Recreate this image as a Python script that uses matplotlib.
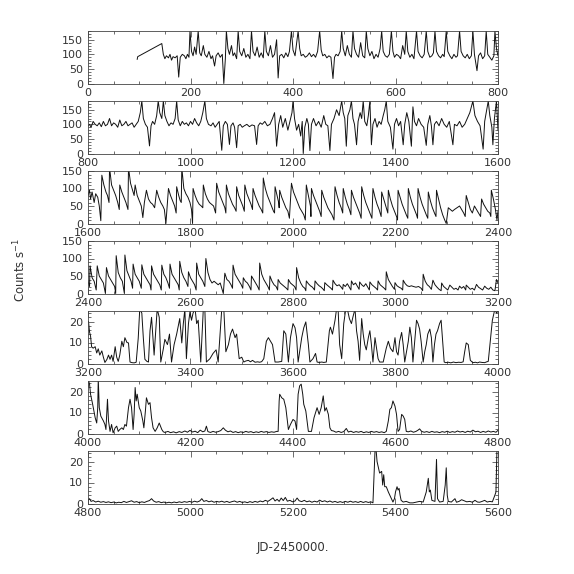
import numpy as np
import matplotlib
matplotlib.use("Agg")
import matplotlib.pyplot as plt
from matplotlib.ticker import MultipleLocator

# light curve: (JD-2450000, counts/s) per panel
seg1 = [(96, 83), (97, 92), (144, 137), (147, 100), (150, 85), (153, 95), (157, 88), (160, 100),
        (163, 80), (166, 92), (170, 88), (174, 95), (177, 22), (180, 90), (184, 100), (188, 95),
        (191, 85), (194, 100), (197, 90), (199, 180), (202, 110), (205, 95), (208, 125), (211, 100),
        (215, 180), (218, 105), (221, 95), (225, 130), (228, 100), (232, 90), (236, 110), (240, 85),
        (243, 95), (247, 60), (250, 95), (254, 105), (258, 90), (262, 100), (265, 0), (268, 85),
        (270, 180), (273, 120), (276, 100), (280, 130), (283, 95), (286, 105), (290, 85), (293, 180),
        (296, 110), (300, 95), (304, 120), (308, 90), (312, 100), (316, 85), (319, 180), (322, 110),
        (326, 95), (330, 125), (334, 90), (338, 105), (342, 88), (345, 180), (348, 110), (352, 95),
        (356, 130), (360, 90), (364, 100), (368, 150), (371, 19), (374, 95), (378, 100), (382, 88),
        (386, 105), (390, 92), (393, 110), (397, 180), (400, 115), (404, 95), (410, 180), (413, 120),
        (416, 95), (420, 100), (424, 90), (428, 95), (432, 105), (436, 92), (440, 100), (444, 90),
        (448, 110), (452, 180), (455, 115), (458, 95), (462, 100), (466, 88), (470, 95), (474, 90),
        (478, 17), (481, 90), (484, 100), (488, 95), (492, 110), (495, 180), (498, 120), (502, 95),
        (506, 130), (510, 100), (514, 90), (517, 180), (520, 120), (524, 100), (528, 90), (532, 140),
        (536, 95), (540, 88), (543, 180), (546, 120), (550, 95), (554, 110), (558, 85), (562, 100),
        (566, 90), (570, 120), (573, 180), (576, 110), (580, 95), (584, 90), (588, 100), (592, 180),
        (595, 110), (598, 90), (602, 100), (606, 95), (610, 85), (614, 130), (618, 100), (621, 180),
        (624, 110), (628, 90), (632, 100), (636, 85), (641, 180), (644, 110), (648, 95), (652, 88),
        (656, 100), (660, 180), (663, 110), (667, 90), (671, 95), (674, 105), (677, 180), (680, 110),
        (684, 95), (688, 88), (692, 100), (695, 92), (699, 180), (702, 110), (706, 95), (710, 85),
        (714, 100), (718, 90), (721, 95), (725, 180), (728, 110), (732, 95), (736, 88), (740, 100),
        (744, 85), (748, 95), (751, 180), (754, 100), (759, 44), (762, 95), (766, 105), (770, 85),
        (774, 95), (777, 180), (780, 100), (784, 90), (788, 80), (792, 95), (794, 180), (797, 120),
        (800, 95)]

seg2 = [(800, 95), (803, 100), (806, 90), (810, 110), (814, 100), (818, 95), (822, 105), (826, 92),
        (830, 110), (834, 95), (838, 100), (842, 120), (846, 95), (850, 105), (854, 100), (858, 90),
        (862, 115), (866, 95), (870, 100), (874, 110), (878, 95), (882, 100), (886, 105), (890, 90),
        (894, 100), (898, 110), (902, 140), (905, 180), (908, 120), (912, 100), (916, 90), (920, 26),
        (923, 95), (926, 110), (930, 100), (934, 130), (937, 180), (940, 140), (944, 120), (947, 180),
        (950, 130), (954, 110), (958, 95), (962, 105), (966, 100), (970, 120), (973, 180), (976, 115),
        (980, 95), (984, 110), (988, 100), (992, 105), (996, 95), (1000, 110), (1004, 100), (1008, 120),
        (1012, 105), (1016, 95), (1020, 110), (1024, 140), (1028, 180), (1031, 120), (1035, 100),
        (1040, 95), (1044, 105), (1048, 90), (1052, 100), (1056, 110), (1061, 11), (1064, 95),
        (1068, 110), (1072, 100), (1076, 31), (1079, 95), (1083, 105), (1086, 90), (1090, 20),
        (1093, 95), (1097, 100), (1101, 90), (1105, 95), (1110, 100), (1115, 92), (1120, 98),
        (1125, 95), (1129, 31), (1132, 95), (1136, 105), (1140, 100), (1145, 110), (1150, 95),
        (1155, 100), (1160, 120), (1164, 140), (1168, 25), (1172, 100), (1176, 130), (1180, 90),
        (1185, 120), (1190, 80), (1194, 110), (1198, 140), (1200, 180), (1203, 120), (1207, 80),
        (1211, 100), (1215, 60), (1218, 110), (1220, 0), (1223, 90), (1227, 120), (1230, 100),
        (1233, 10), (1236, 100), (1240, 120), (1245, 95), (1250, 110), (1255, 90), (1260, 130),
        (1264, 100), (1268, 95), (1272, 10), (1275, 100), (1280, 120), (1285, 150), (1290, 130),
        (1295, 180), (1298, 140), (1301, 120), (1304, 25), (1307, 130), (1311, 150), (1314, 180),
        (1317, 120), (1320, 100), (1324, 30), (1327, 110), (1331, 140), (1334, 120), (1337, 180),
        (1340, 110), (1344, 95), (1347, 130), (1350, 180), (1353, 30), (1356, 100), (1360, 120),
        (1364, 90), (1368, 110), (1372, 100), (1376, 130), (1379, 150), (1382, 180), (1385, 110),
        (1390, 90), (1395, 15), (1398, 100), (1402, 120), (1406, 95), (1410, 110), (1415, 30),
        (1418, 100), (1422, 140), (1426, 110), (1431, 25), (1434, 160), (1437, 110), (1441, 95),
        (1445, 120), (1450, 100), (1455, 90), (1460, 28), (1463, 100), (1467, 130), (1470, 95),
        (1473, 30), (1476, 100), (1480, 110), (1485, 95), (1490, 120), (1495, 100), (1500, 90),
        (1505, 110), (1512, 30), (1515, 100), (1520, 95), (1525, 110), (1530, 90), (1535, 100),
        (1540, 120), (1545, 140), (1551, 180), (1555, 130), (1560, 110), (1565, 95), (1571, 15),
        (1574, 110), (1578, 150), (1581, 180), (1584, 130), (1588, 90), (1590, 30), (1593, 120),
        (1597, 180), (1600, 80)]

seg3 = [(1600, 80), (1603, 95), (1605, 70), (1608, 90), (1612, 60), (1615, 85), (1619, 75), (1622, 50),
        (1625, 8), (1627, 138), (1631, 110), (1635, 90), (1638, 80), (1641, 60), (1642, 160), (1646, 110),
        (1650, 95), (1654, 80), (1658, 60), (1661, 40), (1662, 110), (1666, 90), (1670, 75), (1674, 60),
        (1678, 40), (1679, 160), (1683, 115), (1687, 95), (1690, 80), (1692, 110), (1696, 80), (1700, 65),
        (1704, 50), (1707, 17), (1710, 60), (1714, 95), (1718, 70), (1722, 60), (1726, 55), (1730, 45),
        (1734, 95), (1738, 75), (1742, 60), (1746, 50), (1749, 40), (1752, 0), (1757, 100), (1761, 80),
        (1765, 65), (1769, 50), (1772, 30), (1773, 105), (1777, 80), (1780, 65), (1782, 60), (1783, 160),
        (1787, 100), (1791, 85), (1795, 75), (1799, 60), (1802, 40), (1804, 0), (1805, 100), (1809, 80),
        (1813, 65), (1817, 55), (1821, 50), (1824, 45), (1825, 110), (1829, 85), (1833, 70), (1837, 60),
        (1841, 55), (1845, 50), (1849, 30), (1851, 115), (1855, 90), (1859, 75), (1863, 60), (1867, 45),
        (1869, 30), (1870, 110), (1874, 85), (1878, 70), (1882, 55), (1886, 45), (1889, 35), (1890, 105),
        (1894, 80), (1898, 65), (1902, 50), (1905, 35), (1906, 110), (1910, 85), (1914, 70), (1918, 55),
        (1921, 40), (1922, 100), (1926, 80), (1930, 65), (1934, 50), (1938, 40), (1941, 30), (1942, 130),
        (1946, 100), (1950, 80), (1954, 65), (1958, 50), (1962, 35), (1964, 30), (1965, 105), (1969, 80),
        (1972, 60), (1973, 45), (1974, 95), (1978, 75), (1982, 60), (1986, 45), (1990, 35), (1993, 15),
        (1997, 115), (2001, 90), (2005, 75), (2009, 60), (2013, 45), (2017, 35), (2021, 25), (2024, 10),
        (2026, 110), (2030, 80), (2034, 50), (2035, 20), (2036, 100), (2040, 80), (2044, 65), (2048, 50),
        (2052, 35), (2055, 20), (2056, 95), (2060, 75), (2064, 60), (2068, 45), (2072, 35), (2076, 25),
        (2080, 10), (2082, 105), (2086, 80), (2090, 60), (2094, 45), (2097, 30), (2098, 100), (2102, 75),
        (2106, 55), (2110, 40), (2113, 25), (2114, 95), (2118, 75), (2122, 60), (2126, 45), (2130, 30),
        (2133, 15), (2134, 105), (2138, 80), (2142, 60), (2146, 45), (2150, 30), (2154, 15), (2156, 100),
        (2160, 75), (2164, 55), (2168, 40), (2172, 20), (2173, 90), (2177, 70), (2181, 50), (2185, 30),
        (2186, 95), (2190, 70), (2194, 50), (2198, 35), (2202, 20), (2204, 10), (2205, 95), (2209, 75),
        (2213, 55), (2217, 40), (2221, 25), (2224, 15), (2225, 100), (2229, 75), (2233, 55), (2237, 40),
        (2241, 25), (2243, 15), (2244, 100), (2248, 75), (2252, 55), (2256, 40), (2260, 25), (2263, 15),
        (2264, 90), (2268, 65), (2272, 45), (2276, 30), (2279, 20), (2280, 95), (2284, 70), (2288, 45),
        (2292, 25), (2296, 10), (2299, 0), (2303, 45), (2307, 40), (2311, 35), (2315, 40), (2320, 45),
        (2325, 50), (2329, 40), (2333, 30), (2336, 20), (2338, 80), (2342, 60), (2346, 40), (2350, 30),
        (2354, 50), (2358, 40), (2362, 30), (2366, 20), (2368, 70), (2372, 55), (2376, 45), (2380, 35),
        (2384, 30), (2386, 20), (2387, 95), (2391, 70), (2395, 40), (2398, 10), (2400, 35)]

seg4 = [(2400, 35), (2403, 20), (2404, 79), (2408, 45), (2412, 35), (2416, 10), (2418, 79), (2422, 50),
        (2426, 40), (2430, 30), (2434, 0), (2436, 74), (2440, 50), (2444, 40), (2448, 30), (2452, 20),
        (2454, 0), (2455, 108), (2459, 60), (2463, 45), (2467, 35), (2471, 0), (2472, 110), (2476, 65),
        (2480, 50), (2484, 35), (2487, 15), (2488, 84), (2492, 55), (2496, 45), (2500, 35), (2504, 15),
        (2505, 82), (2509, 55), (2513, 45), (2517, 35), (2521, 25), (2523, 10), (2524, 79), (2528, 55),
        (2532, 45), (2536, 35), (2540, 25), (2543, 10), (2544, 81), (2548, 55), (2552, 45), (2556, 30),
        (2559, 15), (2560, 84), (2564, 55), (2568, 45), (2572, 35), (2576, 25), (2578, 10), (2579, 92),
        (2583, 60), (2587, 45), (2591, 35), (2595, 20), (2596, 62), (2600, 45), (2604, 35), (2608, 25),
        (2611, 10), (2612, 87), (2616, 55), (2620, 45), (2624, 35), (2628, 20), (2630, 100), (2634, 60),
        (2638, 40), (2642, 30), (2646, 35), (2650, 30), (2654, 25), (2658, 30), (2662, 10), (2664, 0),
        (2667, 58), (2671, 40), (2675, 35), (2679, 25), (2682, 15), (2683, 81), (2687, 55), (2691, 45),
        (2695, 35), (2699, 25), (2702, 15), (2703, 45), (2707, 35), (2711, 30), (2715, 20), (2718, 10),
        (2719, 50), (2723, 40), (2727, 30), (2731, 20), (2734, 10), (2735, 87), (2739, 55), (2743, 40),
        (2747, 30), (2751, 20), (2754, 10), (2755, 50), (2759, 35), (2763, 25), (2767, 20), (2770, 10),
        (2771, 40), (2775, 30), (2779, 25), (2783, 20), (2787, 15), (2790, 10), (2791, 40), (2795, 30),
        (2799, 25), (2803, 20), (2806, 10), (2807, 74), (2811, 45), (2815, 30), (2819, 20), (2823, 15),
        (2825, 8), (2826, 36), (2830, 28), (2834, 22), (2838, 18), (2842, 10), (2843, 36), (2847, 28),
        (2851, 22), (2855, 18), (2859, 12), (2861, 8), (2862, 31), (2866, 25), (2870, 20), (2874, 15),
        (2877, 10), (2878, 38), (2882, 28), (2886, 22), (2890, 25), (2894, 18), (2897, 12), (2898, 26),
        (2902, 20), (2906, 28), (2910, 18), (2913, 10), (2914, 36), (2918, 25), (2922, 30), (2926, 20),
        (2929, 12), (2930, 33), (2934, 25), (2938, 20), (2942, 28), (2946, 18), (2949, 10), (2950, 33),
        (2954, 25), (2958, 20), (2962, 15), (2965, 10), (2966, 36), (2970, 25), (2974, 20), (2978, 15),
        (2981, 10), (2982, 62), (2986, 40), (2990, 30), (2994, 20), (2998, 12), (2999, 31), (3003, 22),
        (3007, 18), (3011, 15), (3014, 10), (3015, 38), (3019, 28), (3023, 22), (3027, 20), (3031, 22),
        (3035, 20), (3040, 18), (3045, 20), (3050, 15), (3053, 8), (3054, 55), (3058, 35), (3062, 25),
        (3066, 20), (3070, 12), (3073, 38), (3077, 25), (3081, 18), (3085, 12), (3089, 8), (3090, 30),
        (3094, 20), (3098, 15), (3102, 10), (3106, 24), (3110, 18), (3114, 12), (3118, 15), (3122, 10),
        (3125, 21), (3129, 15), (3133, 20), (3137, 10), (3138, 24), (3142, 18), (3146, 12), (3150, 15),
        (3154, 10), (3158, 26), (3162, 18), (3166, 14), (3170, 10), (3174, 21), (3178, 15), (3182, 12),
        (3186, 18), (3190, 10), (3194, 8), (3197, 40), (3200, 30)]

seg5 = [(3200, 20), (3201, 20), (3203, 15), (3205, 13), (3207, 8), (3210, 7.3), (3214, 8), (3217, 5),
        (3220, 7), (3223, 4), (3227, 6), (3230, 3), (3233, 0.5), (3237, 2), (3240, 4), (3243, 2),
        (3246, 4), (3249, 1), (3253, 8), (3256, 3), (3259, 1), (3262, 4), (3266, 10.6), (3269, 8),
        (3272, 12.3), (3276, 10), (3279, 9.8), (3282, 0.7), (3286, 0.4), (3290, 0.3), (3294, 0.6),
        (3298, 12), (3301, 26), (3305, 24), (3308, 12), (3311, 2), (3315, 1), (3318, 0.7), (3321, 15.6),
        (3324, 22), (3329, 4), (3333, 19), (3335, 26), (3339, 22), (3342, 0.7), (3347, 7), (3350, 11.5),
        (3355, 9), (3359, 14), (3363, 0.7), (3368, 9), (3373, 14), (3379, 21.4), (3383, 9.8), (3386, 19),
        (3389, 26), (3392, 2.3), (3396, 19), (3399, 24.7), (3402, 20.6), (3405, 24), (3409, 26),
        (3412, 19), (3415, 20.6), (3420, 0.7), (3425, 26), (3428, 26), (3431, 0.7), (3438, 2.3),
        (3444, 4.8), (3450, 6.5), (3454, 0.7), (3461, 26), (3465, 26), (3469, 5.6), (3474, 9),
        (3478, 14), (3482, 16.4), (3487, 12.3), (3490, 14), (3495, 2.3), (3500, 3), (3504, 0.7),
        (3508, 1.2), (3513, 1.5), (3517, 0.8), (3521, 1.5), (3526, 0.6), (3531, 0.8), (3535, 0.6),
        (3539, 0.9), (3543, 2.3), (3548, 10.6), (3552, 12.3), (3556, 10.6), (3560, 9), (3565, 0.7),
        (3571, 0.7), (3578, 1), (3582, 15.6), (3586, 14), (3591, 0.7), (3595, 12.3), (3600, 19),
        (3604, 17), (3607, 12.3), (3610, 0.7), (3617, 12.3), (3621, 17), (3625, 19.8), (3630, 9),
        (3633, 0.7), (3639, 2.3), (3644, 4.8), (3647, 0.7), (3651, 0.5), (3656, 0.7), (3660, 0.5),
        (3665, 0.7), (3671, 15.6), (3673, 17.3), (3677, 14), (3682, 20.6), (3685, 26), (3688, 26),
        (3691, 9), (3695, 2.3), (3699, 19), (3703, 26), (3706, 26), (3710, 21.4), (3714, 19),
        (3717, 22.2), (3721, 26), (3724, 15.6), (3727, 10.6), (3730, 1.5), (3734, 21.4), (3737, 14),
        (3740, 9), (3743, 6.5), (3747, 12.3), (3750, 15.6), (3753, 9), (3756, 0.7), (3760, 12.3),
        (3763, 7.3), (3766, 2.3), (3769, 0.7), (3776, 0.7), (3782, 7.3), (3786, 10.6), (3790, 7.3),
        (3795, 5.6), (3799, 12.3), (3802, 5.6), (3805, 4), (3808, 10.6), (3812, 14.8), (3815, 9),
        (3818, 0.7), (3825, 10.6), (3828, 17.3), (3831, 12.3), (3834, 0.7), (3838, 12.3), (3841, 20.6),
        (3844, 19), (3847, 16.4), (3850, 10.6), (3854, 0.7), (3857, 5.6), (3860, 9), (3863, 14),
        (3867, 16.4), (3870, 12.3), (3873, 0.7), (3876, 9), (3879, 14), (3882, 15.6), (3886, 19),
        (3889, 20.6), (3892, 10.6), (3895, 0.7), (3898, 0.4), (3903, 0.6), (3908, 0.3), (3913, 0.7),
        (3918, 0.4), (3923, 0.6), (3928, 0.5), (3932, 0.8), (3935, 5.6), (3938, 9.8), (3942, 9),
        (3946, 1.5), (3951, 0.4), (3956, 0.6), (3960, 0.3), (3964, 0.7), (3969, 0.5), (3974, 0.4),
        (3978, 0.8), (3981, 1.0), (3985, 10.6), (3989, 20.6), (3994, 26), (3997, 24), (4000, 25)]

seg6 = [(4000, 26), (4003, 23.5), (4005, 18.7), (4009, 14), (4014, 7.5), (4017, 5), (4019, 12.3),
        (4020, 26), (4022, 12.3), (4025, 8.3), (4030, 6), (4033, 4.3), (4035, 1.9), (4038, 16.3),
        (4040, 6), (4043, 1), (4046, 4.3), (4049, 0.3), (4053, 2.7), (4056, 3.5), (4059, 1),
        (4062, 1.9), (4066, 2.7), (4069, 1.9), (4072, 4.3), (4075, 3.5), (4079, 12.3), (4082, 16.3),
        (4085, 12.3), (4088, 1.9), (4090, 9.1), (4092, 21.9), (4094, 15.5), (4096, 18.7), (4100, 12.3),
        (4103, 10.7), (4107, 6), (4109, 2.7), (4112, 10.7), (4114, 17), (4118, 13.9), (4121, 14.7),
        (4124, 7.5), (4127, 2.7), (4131, 1), (4135, 2.7), (4139, 5), (4144, 1.9), (4147, 0.8),
        (4150, 0.5), (4156, 1.0), (4161, 0.4), (4167, 0.8), (4172, 0.3), (4178, 0.9), (4183, 0.5),
        (4189, 1.2), (4194, 0.6), (4199, 1.5), (4204, 0.7), (4209, 1.1), (4214, 0.4), (4219, 1.6),
        (4224, 0.8), (4228, 1.2), (4231, 3.5), (4234, 0.9), (4239, 0.5), (4244, 1.0), (4249, 0.6),
        (4254, 0.9), (4259, 1.4), (4264, 2.7), (4268, 1.6), (4273, 0.8), (4278, 1.2), (4283, 0.5),
        (4288, 0.9), (4293, 0.4), (4298, 0.8), (4303, 0.5), (4308, 1.0), (4313, 0.6), (4318, 0.9),
        (4323, 0.4), (4328, 0.8), (4333, 0.5), (4338, 1.0), (4343, 0.6), (4348, 0.9), (4353, 0.5),
        (4358, 0.8), (4363, 0.6), (4368, 1.0), (4371, 1), (4373, 15.5), (4374, 18.7), (4378, 17),
        (4382, 16.3), (4386, 12.3), (4391, 1.9), (4395, 4.3), (4400, 6.7), (4404, 5.9), (4407, 1.9),
        (4410, 18.7), (4413, 22.7), (4416, 23.5), (4419, 18.7), (4421, 13.9), (4425, 10.7), (4430, 1),
        (4436, 1), (4441, 7.5), (4445, 10.7), (4447, 12.3), (4451, 9.1), (4455, 12.3), (4459, 17.9),
        (4462, 10.7), (4465, 12.3), (4469, 9.1), (4472, 2.7), (4475, 1.4), (4479, 1.2), (4484, 0.6),
        (4489, 1.0), (4494, 0.5), (4499, 0.9), (4504, 2.4), (4508, 0.7), (4513, 1.1), (4518, 0.5),
        (4523, 0.9), (4528, 0.6), (4533, 1.0), (4538, 0.4), (4543, 0.8), (4548, 0.5), (4553, 1.0),
        (4558, 0.6), (4563, 0.9), (4568, 0.5), (4573, 0.8), (4578, 0.4), (4582, 1.0), (4586, 6),
        (4589, 11.5), (4592, 12.3), (4595, 15.5), (4599, 13), (4602, 9.1), (4605, 1), (4608, 1.9),
        (4612, 9.1), (4615, 8.3), (4618, 6.7), (4621, 1), (4625, 0.8), (4630, 1.2), (4635, 0.6),
        (4640, 1.0), (4644, 1.6), (4647, 2.2), (4651, 1.0), (4656, 0.6), (4661, 0.9), (4666, 0.5),
        (4671, 1.0), (4676, 0.6), (4681, 0.8), (4686, 0.4), (4691, 0.9), (4696, 0.6), (4701, 1.1),
        (4706, 0.5), (4711, 0.9), (4716, 0.6), (4721, 1.2), (4726, 0.7), (4731, 1.0), (4736, 0.5),
        (4741, 1.1), (4746, 0.7), (4751, 1.6), (4756, 0.8), (4761, 1.1), (4766, 0.5), (4771, 1.0),
        (4776, 0.6), (4781, 1.2), (4786, 0.7), (4791, 1.0), (4796, 0.6), (4800, 1.5)]

seg7 = [(4800, 1.5), (4803, 2.3), (4806, 1.0), (4810, 1.4), (4815, 0.7), (4820, 1.1), (4825, 0.6),
        (4830, 0.9), (4835, 0.5), (4840, 0.8), (4845, 0.4), (4850, 0.7), (4855, 0.3), (4860, 0.6),
        (4865, 0.4), (4870, 1.0), (4875, 0.5), (4880, 0.9), (4885, 1.3), (4890, 0.6), (4895, 0.9),
        (4900, 0.4), (4905, 0.8), (4910, 0.5), (4915, 1.0), (4920, 1.4), (4924, 2.3), (4928, 1.2),
        (4933, 0.6), (4938, 0.9), (4943, 0.4), (4948, 0.7), (4953, 0.3), (4958, 0.6), (4963, 0.3),
        (4968, 0.7), (4973, 0.4), (4978, 0.8), (4983, 0.5), (4988, 0.9), (4993, 0.6), (4998, 1.0),
        (5003, 0.6), (5008, 1.1), (5013, 0.7), (5018, 1.2), (5022, 2.3), (5026, 1.0), (5031, 1.4),
        (5036, 0.8), (5041, 1.2), (5046, 0.6), (5051, 1.0), (5056, 0.7), (5061, 1.1), (5066, 0.6),
        (5071, 1.0), (5076, 0.5), (5081, 0.9), (5086, 1.2), (5091, 0.6), (5096, 1.0), (5101, 0.5),
        (5106, 0.8), (5111, 0.4), (5116, 0.9), (5121, 0.5), (5126, 1.0), (5131, 0.6), (5136, 1.2),
        (5141, 0.8), (5146, 1.5), (5151, 1.0), (5156, 1.8), (5161, 2.7), (5165, 1.2), (5169, 2.0),
        (5173, 1.0), (5177, 2.6), (5181, 1.4), (5185, 2.9), (5189, 1.1), (5194, 1.5), (5199, 0.8),
        (5204, 1.2), (5208, 2.6), (5212, 1.3), (5217, 0.9), (5222, 1.5), (5227, 0.8), (5232, 1.2),
        (5237, 0.6), (5242, 1.1), (5247, 0.7), (5252, 1.6), (5257, 0.9), (5262, 1.3), (5267, 0.7),
        (5272, 1.2), (5277, 0.6), (5282, 1.0), (5287, 0.5), (5292, 0.9), (5297, 0.5), (5302, 1.0),
        (5307, 0.6), (5312, 1.1), (5317, 0.6), (5322, 0.9), (5327, 0.5), (5332, 1.0), (5337, 0.5),
        (5342, 0.9), (5347, 0.5), (5352, 0.8), (5356, 0.3), (5360, 25), (5362, 26), (5364, 20),
        (5366, 17.8), (5369, 14.5), (5373, 15.3), (5375, 8.8), (5377, 13.7), (5379, 8), (5382, 8),
        (5386, 5.5), (5389, 3.9), (5392, 2.3), (5395, 0.7), (5398, 2.3), (5400, 5.5), (5403, 8),
        (5405, 6.4), (5407, 7.2), (5409, 3.9), (5411, 1.5), (5415, 0.7), (5421, 1.0), (5428, 0.3),
        (5434, 0.3), (5441, 0.7), (5447, 1.0), (5454, 0.7), (5460, 5.5), (5464, 12), (5466, 5.5),
        (5468, 6.4), (5471, 1.5), (5477, 1.0), (5480, 21), (5482, 2.3), (5486, 0.7), (5493, 1.0),
        (5497, 8.8), (5499, 17), (5501, 3.9), (5503, 1.0), (5509, 0.7), (5516, 2.3), (5519, 0.6),
        (5524, 1.0), (5529, 1.8), (5534, 1.3), (5539, 0.8), (5545, 1.0), (5550, 0.6), (5555, 1.5),
        (5560, 0.7), (5564, 0.6), (5569, 1.0), (5574, 1.5), (5579, 0.7), (5584, 1.0), (5589, 0.8),
        (5594, 4.0), (5596, 5.5), (5598, 26), (5600, 26)]

segments = [seg1, seg2, seg3, seg4, seg5, seg6, seg7]
xranges = [(0, 800), (800, 1600), (1600, 2400), (2400, 3200),
           (3200, 4000), (4000, 4800), (4800, 5600)]
ytops = [180, 180, 150, 150, 25, 25, 25]

fig = plt.figure(figsize=(5.74, 5.74), dpi=100)

left, width = 88 / 574, 410 / 574
height = 52.5 / 574
for i, (seg, (x0, x1), ytop) in enumerate(zip(segments, xranges, ytops)):
    bottom = 1 - (83.5 + 70 * i) / 574
    ax = fig.add_axes([left, bottom, width, height])
    t, c = np.array(seg, dtype=float).T
    ax.plot(t, c, color='#111111', lw=0.7)
    ax.set_xlim(x0, x1)
    ax.set_ylim(0, ytop)

    ax.xaxis.set_major_locator(MultipleLocator(200))
    ax.xaxis.set_minor_locator(MultipleLocator(50))
    if ytop > 30:
        ax.yaxis.set_major_locator(MultipleLocator(50))
        ax.yaxis.set_minor_locator(MultipleLocator(10))
    else:
        ax.yaxis.set_major_locator(MultipleLocator(10))
        ax.yaxis.set_minor_locator(MultipleLocator(2))

    ax.tick_params(which='both', direction='in', top=True, right=True,
                   labelsize=8, pad=3.5, width=0.5, colors='#333333')
    ax.tick_params(which='major', length=4.5)
    ax.tick_params(which='minor', length=2)
    for s in ax.spines.values():
        s.set_linewidth(0.6)
        s.set_color('#444444')

fig.text(0.035, 1 - 270 / 574, 'Counts s$^{-1}$', rotation=90, ha='center', va='center',
         fontsize=8.5, color='#333333')
fig.text(293 / 574, 1 - 547 / 574, 'JD-2450000.', ha='center', va='center',
         fontsize=8.5, color='#333333')

fig.savefig('out.png', dpi=100)
